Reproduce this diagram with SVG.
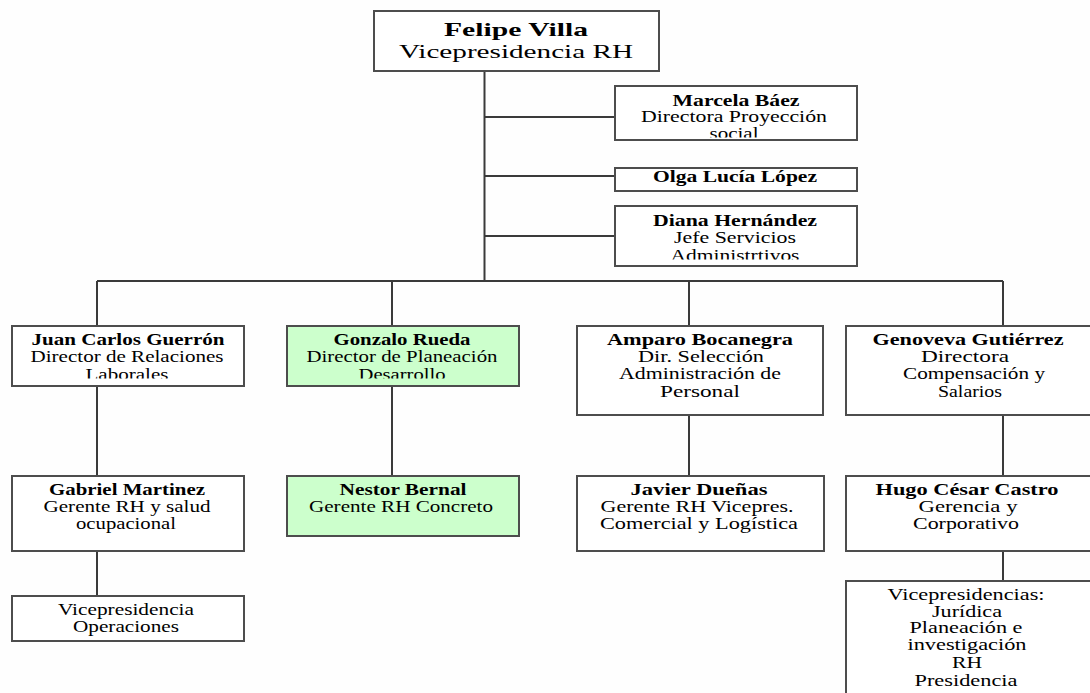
<svg xmlns="http://www.w3.org/2000/svg" width="1090" height="693" viewBox="0 0 1090 693">
  <style>
    .box { fill: #ffffff; stroke: #4d4d4d; stroke-width: 2; }
    .green { fill: #ccffcc; }
    .wire { fill: none; stroke: #3a3a3a; stroke-width: 2; }
    text { font-family: "Liberation Serif", "Times New Roman", serif; font-size: 16.5px; fill: #000; text-anchor: middle; }
    .b { font-weight: bold; }
    .big { font-size: 19px; }
  </style>
  <defs>
    <clipPath id="clip-marcela"><rect x="615" y="86" width="242" height="51.5"/></clipPath>
    <clipPath id="clip-olga"><rect x="615" y="169.5" width="242" height="21"/></clipPath>
    <clipPath id="clip-diana"><rect x="615" y="206" width="242" height="53.5"/></clipPath>
    <clipPath id="clip-juan"><rect x="12" y="326" width="232" height="52.5"/></clipPath>
    <clipPath id="clip-gonzalo"><rect x="287" y="326" width="232" height="52.5"/></clipPath>
  </defs>
  <rect width="1090" height="693" fill="#fefefe"/>

  <!-- connectors -->
  <g id="connectors" class="wire">
    <path d="M484.5 71 V281"/>
    <path d="M484.5 117 H615"/>
    <path d="M484.5 176 H615"/>
    <path d="M484.5 236 H615"/>
    <path d="M97 281 H1003"/>
    <path d="M97 281 V326"/>
    <path d="M392 281 V326"/>
    <path d="M689 281 V326"/>
    <path d="M1003 281 V326"/>
    <path d="M97 386 V476"/>
    <path d="M392 386 V476"/>
    <path d="M689 415 V476"/>
    <path d="M1003 415 V476"/>
    <path d="M97 551 V596"/>
    <path d="M1003 551 V581"/>
  </g>

  <g id="felipe">
    <rect class="box" x="374" y="11" width="285" height="60"/>
    <text class="b big" x="516" y="36" textLength="144" lengthAdjust="spacingAndGlyphs">Felipe Villa</text>
    <text class="big" x="516" y="58" textLength="234" lengthAdjust="spacingAndGlyphs">Vicepresidencia RH</text>
  </g>

  <g id="marcela">
    <rect class="box" x="615" y="86" width="242" height="54"/>
    <g clip-path="url(#clip-marcela)">
      <text class="b" x="736" y="106" textLength="127" lengthAdjust="spacingAndGlyphs">Marcela Báez</text>
      <text x="734" y="122" textLength="186" lengthAdjust="spacingAndGlyphs">Directora Proyección</text>
      <text x="734" y="139" textLength="49" lengthAdjust="spacingAndGlyphs">social</text>
    </g>
  </g>

  <g id="olga">
    <rect class="box" x="615" y="168" width="242" height="23"/>
    <g clip-path="url(#clip-olga)">
      <text class="b" x="735" y="182" textLength="164" lengthAdjust="spacingAndGlyphs">Olga Lucía López</text>
    </g>
  </g>

  <g id="diana">
    <rect class="box" x="615" y="206" width="242" height="60"/>
    <g clip-path="url(#clip-diana)">
      <text class="b" x="735" y="226" textLength="164" lengthAdjust="spacingAndGlyphs">Diana Hernández</text>
      <text x="735" y="243" textLength="122" lengthAdjust="spacingAndGlyphs">Jefe Servicios</text>
      <text x="735" y="261" textLength="129" lengthAdjust="spacingAndGlyphs">Administrtivos</text>
    </g>
  </g>

  <g id="juan">
    <rect class="box" x="12" y="326" width="232" height="60"/>
    <g clip-path="url(#clip-juan)">
      <text class="b" x="128" y="345" textLength="193" lengthAdjust="spacingAndGlyphs">Juan Carlos Guerrón</text>
      <text x="127" y="362" textLength="193" lengthAdjust="spacingAndGlyphs">Director de Relaciones</text>
      <text x="127" y="380" textLength="83" lengthAdjust="spacingAndGlyphs">Laborales</text>
    </g>
  </g>

  <g id="gonzalo">
    <rect class="box green" x="287" y="326" width="232" height="60"/>
    <g clip-path="url(#clip-gonzalo)">
      <text class="b" x="402" y="345" textLength="137" lengthAdjust="spacingAndGlyphs">Gonzalo Rueda</text>
      <text x="402" y="362" textLength="191" lengthAdjust="spacingAndGlyphs">Director de Planeación</text>
      <text x="402" y="380" textLength="87" lengthAdjust="spacingAndGlyphs">Desarrollo</text>
    </g>
  </g>

  <g id="amparo">
    <rect class="box" x="577" y="326" width="246" height="89"/>
    <text class="b" x="700" y="345" textLength="186" lengthAdjust="spacingAndGlyphs">Amparo Bocanegra</text>
    <text x="701" y="362" textLength="126" lengthAdjust="spacingAndGlyphs">Dir. Selección</text>
    <text x="700" y="379" textLength="162" lengthAdjust="spacingAndGlyphs">Administración de</text>
    <text x="700" y="397" textLength="80" lengthAdjust="spacingAndGlyphs">Personal</text>
  </g>

  <g id="genoveva">
    <rect class="box" x="846" y="326" width="260" height="89"/>
    <text class="b" x="968" y="345" textLength="191" lengthAdjust="spacingAndGlyphs">Genoveva Gutiérrez</text>
    <text x="965" y="362" textLength="88" lengthAdjust="spacingAndGlyphs">Directora</text>
    <text x="974" y="379" textLength="142" lengthAdjust="spacingAndGlyphs">Compensación y</text>
    <text x="970" y="397" textLength="64" lengthAdjust="spacingAndGlyphs">Salarios</text>
  </g>

  <g id="gabriel">
    <rect class="box" x="12" y="476" width="232" height="75"/>
    <text class="b" x="127" y="495" textLength="156" lengthAdjust="spacingAndGlyphs">Gabriel Martinez</text>
    <text x="127" y="512" textLength="167" lengthAdjust="spacingAndGlyphs">Gerente RH y salud</text>
    <text x="126" y="529" textLength="100" lengthAdjust="spacingAndGlyphs">ocupacional</text>
  </g>

  <g id="nestor">
    <rect class="box green" x="287" y="476" width="232" height="60"/>
    <text class="b" x="403" y="495" textLength="127" lengthAdjust="spacingAndGlyphs">Nestor Bernal</text>
    <text x="401" y="512" textLength="184" lengthAdjust="spacingAndGlyphs">Gerente RH Concreto</text>
  </g>

  <g id="javier">
    <rect class="box" x="577" y="476" width="247" height="75"/>
    <text class="b" x="699" y="495" textLength="137" lengthAdjust="spacingAndGlyphs">Javier Dueñas</text>
    <text x="697" y="512" textLength="193" lengthAdjust="spacingAndGlyphs">Gerente RH Vicepres.</text>
    <text x="699" y="529" textLength="198" lengthAdjust="spacingAndGlyphs">Comercial y Logística</text>
  </g>

  <g id="hugo">
    <rect class="box" x="846" y="476" width="260" height="75"/>
    <text class="b" x="967" y="495" textLength="183" lengthAdjust="spacingAndGlyphs">Hugo César Castro</text>
    <text x="968" y="512" textLength="99" lengthAdjust="spacingAndGlyphs">Gerencia y</text>
    <text x="966" y="529" textLength="106" lengthAdjust="spacingAndGlyphs">Corporativo</text>
  </g>

  <g id="vp-operaciones">
    <rect class="box" x="12" y="596" width="232" height="45"/>
    <text x="126" y="615" textLength="136" lengthAdjust="spacingAndGlyphs">Vicepresidencia</text>
    <text x="126" y="632" textLength="106" lengthAdjust="spacingAndGlyphs">Operaciones</text>
  </g>

  <g id="vicepresidencias">
    <rect class="box" x="846" y="581" width="260" height="130"/>
    <text x="966" y="600" textLength="157" lengthAdjust="spacingAndGlyphs">Vicepresidencias:</text>
    <text x="967" y="617" textLength="70" lengthAdjust="spacingAndGlyphs">Jurídica</text>
    <text x="966" y="633" textLength="113" lengthAdjust="spacingAndGlyphs">Planeación e</text>
    <text x="967" y="650" textLength="119" lengthAdjust="spacingAndGlyphs">investigación</text>
    <text x="967" y="668" textLength="30" lengthAdjust="spacingAndGlyphs">RH</text>
    <text x="966" y="686" textLength="103" lengthAdjust="spacingAndGlyphs">Presidencia</text>
  </g>
</svg>
